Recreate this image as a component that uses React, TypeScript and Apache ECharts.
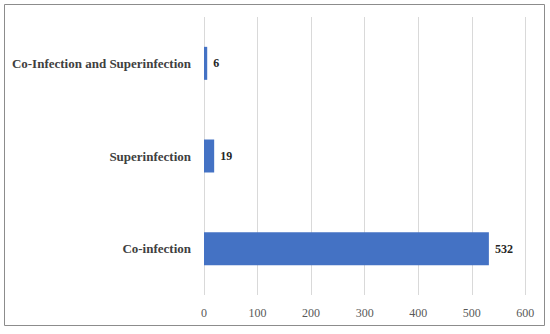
import React, { useEffect, useRef } from "react";
import * as echarts from "echarts";

const categories = ["Co-infection", "Superinfection", "Co-Infection and Superinfection"];
const values = [532, 19, 6];
const xTicks = { min: 0, max: 600, interval: 100 };

export default function App() {
  const ref = useRef<HTMLDivElement>(null);
  useEffect(() => {
    if (!ref.current) return;
    const chart = echarts.init(ref.current, null, { renderer: "svg" });
    const font = "'Liberation Serif', serif";
    chart.setOption({
      animation: false,
      backgroundColor: "#ffffff",
      grid: { left: 204, right: 550 - 525.3, top: 17, bottom: 334 - 295, containLabel: false },
      xAxis: {
        type: "value",
        min: xTicks.min,
        max: xTicks.max,
        interval: xTicks.interval,
        axisLine: { show: false },
        axisTick: { show: false },
        splitLine: { show: true, lineStyle: { color: "#d9d9d9", width: 1 } },
        axisLabel: { color: "#595959", fontFamily: font, fontSize: 12, margin: 12 },
      },
      yAxis: {
        type: "category",
        data: categories,
        axisLine: { show: false },
        axisTick: { show: false },
        axisLabel: { color: "#404040", fontFamily: font, fontSize: 13, fontWeight: "bold", margin: 13 },
      },
      series: [
        {
          type: "bar",
          data: values,
          barWidth: "35.6%",
          itemStyle: { color: "#4472C4" },
          label: {
            show: true,
            position: "right",
            distance: 6,
            color: "#262626",
            fontFamily: font,
            fontSize: 12,
            fontWeight: "bold",
          },
        },
      ],
      graphic: [
        {
          type: "rect",
          shape: { x: 4.5, y: 4.5, width: 540, height: 321 },
          style: { fill: "none", stroke: "#8c8c8c", lineWidth: 1 },
          silent: true,
        },
      ],
    });
    return () => chart.dispose();
  }, []);
  return (
    <div
      ref={ref}
      style={{ position: "absolute", left: 0, top: 0, width: 550, height: 334 }}
    />
  );
}
